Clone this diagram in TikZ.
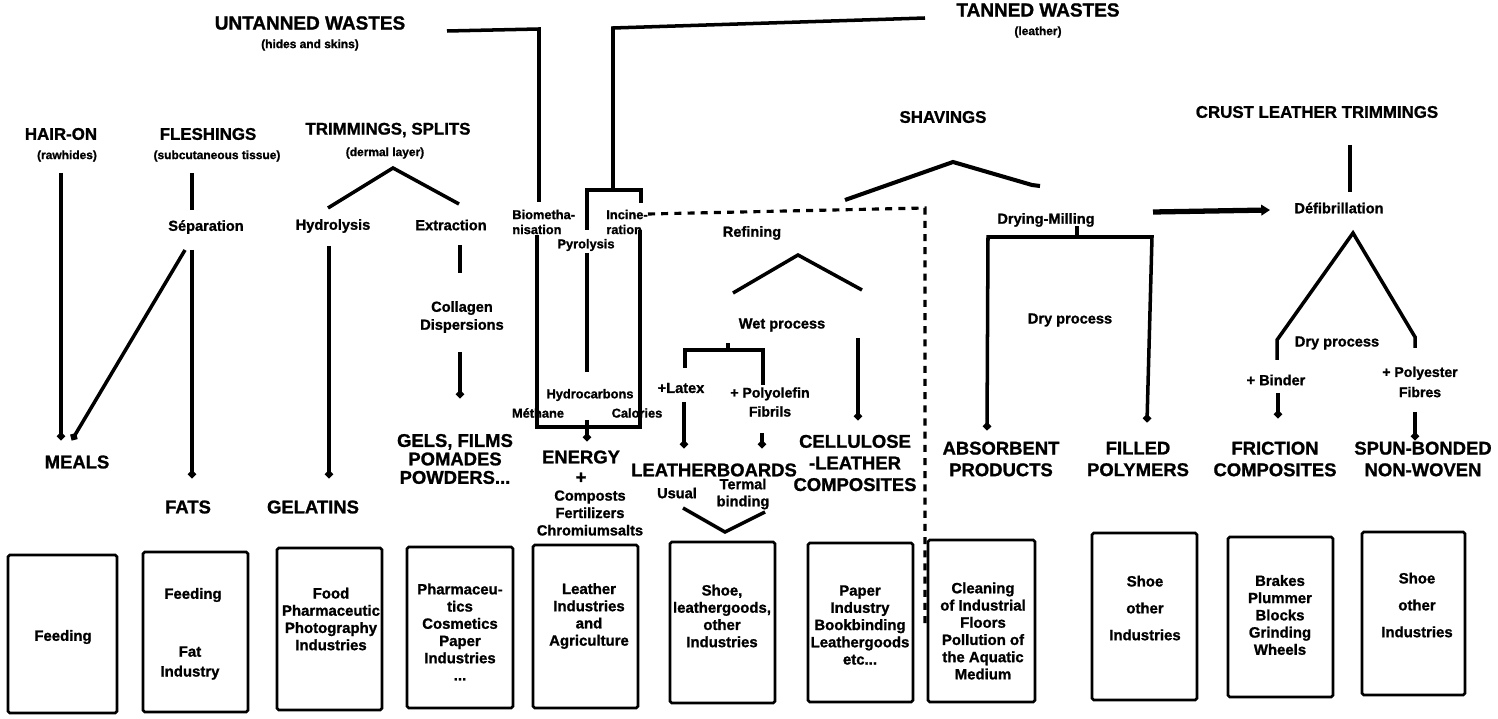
\documentclass[tikz,border=0pt]{standalone}
\usepackage{fontspec}
\setmainfont{Liberation Sans}[BoldFeatures={FakeBold=1.2}]
\usetikzlibrary{arrows.meta,fit}
\tikzset{
  every node/.style={inner sep=0pt},
  ttl/.style={font=\fontsize{10.8}{12}\selectfont\bfseries},
  cat/.style={font=\fontsize{9.6}{11}\selectfont\bfseries},
  sub/.style={font=\fontsize{6.8}{8}\selectfont\bfseries},
  prod/.style={font=\fontsize{10.5}{12.3}\selectfont\bfseries, align=center},
  proc/.style={font=\fontsize{8.3}{10}\selectfont\bfseries, align=center},
  sm/.style={font=\fontsize{7.3}{8.5}\selectfont\bfseries, align=center},
  bt/.style={font=\fontsize{8.5}{9.8}\selectfont\bfseries, align=center},
  ln/.style={line width=2pt},
  arr/.style={line width=2pt, -{Circle[length=4.2pt]}},
  dsh/.style={line width=1.8pt, dash pattern=on 4pt off 3.5pt},
  box/.style={draw, line width=1.5pt, rounded corners=1pt, inner sep=0pt},
}
\begin{document}
\begin{tikzpicture}[x=0.02cm,y=-0.02cm]
\useasboundingbox (0,0) rectangle (1498,719);

% ---------- titles ----------
\node[ttl] (untanned) at (310,23) {UNTANNED WASTES};
\node[sub] (untsub) at (310,45) {(hides and skins)};
\node[ttl] (tanned) at (1038,10) {TANNED WASTES};
\node[sub] (tansub) at (1038,32) {(leather)};
\node[cat] (hair) at (61,134) {HAIR-ON};
\node[sub] (hairsub) at (67,156) {(rawhides)};
\node[cat] (flesh) at (208,134) {FLESHINGS};
\node[sub] (fleshsub) at (217,156) {(subcutaneous tissue)};
\node[cat] (trim) at (388,130) {TRIMMINGS, SPLITS};
\node[sub] (trimsub) at (385,153) {(dermal layer)};
\node[cat] (shav) at (943,117) {SHAVINGS};
\node[cat] (crust) at (1317,112) {CRUST LEATHER TRIMMINGS};

% ---------- process labels ----------
\node[proc] (sep) at (206,227) {Séparation};
\node[proc] (hydro) at (333,226) {Hydrolysis};
\node[proc] (extr) at (451,225) {Extraction};
\node[proc, font=\fontsize{8.3}{10.2}\selectfont\bfseries] (coll) at (462,317) {Collagen\\Dispersions};
\node[sm, align=left, anchor=west] (biom) at (512,222) {Biometha-\\nisation};
\node[sm, align=left, anchor=west] (incin) at (606,222) {Incine-\\ration};
\node[sm] (pyro) at (586,245) {Pyrolysis};
\node[sm] (hydc) at (590,395) {Hydrocarbons};
\node[sm] (meth) at (538,413) {Méthane};
\node[sm] (calo) at (637,413) {Calories};
\node[proc] (refin) at (752,233) {Refining};
\node[proc] (wet) at (782,325) {Wet process};
\node[proc] (latex) at (681,388) {+Latex};
\node[proc, font=\fontsize{8}{10.8}\selectfont\bfseries] (poly) at (770,402) {+ Polyolefin\\Fibrils};
\node[proc] (usual) at (677,493) {Usual};
\node[proc, font=\fontsize{8.3}{9.7}\selectfont\bfseries] (termal) at (743,494) {Termal\\binding};
\node[proc] (drying) at (1046,220) {Drying-Milling};
\node[proc] (dry1) at (1070,320) {Dry process};
\node[proc] (defib) at (1339,208) {Défibrillation};
\node[proc] (dry2) at (1337,343) {Dry process};
\node[proc] (binder) at (1276,380) {+ Binder};
\node[proc, font=\fontsize{8}{11.5}\selectfont\bfseries] (polyes) at (1420,382) {+ Polyester\\Fibres};

% ---------- products ----------
\node[prod] (meals) at (77,462) {MEALS};
\node[prod] (fats) at (188,507) {FATS};
\node[prod] (gelat) at (313,507) {GELATINS};
\node[prod, font=\fontsize{10.5}{10.5}\selectfont\bfseries] (gels) at (455,459) {GELS, FILMS\\POMADES\\POWDERS...};
\node[prod] (energy) at (581,457) {ENERGY};
\node[prod] (plus) at (581,478) {+};
\node[proc, font=\fontsize{8.3}{9.9}\selectfont\bfseries] (comp) at (590,513) {Composts\\Fertilizers\\Chromiumsalts};
\node[prod] (lboards) at (714,470) {LEATHERBOARDS};
\node[prod] (cellu) at (855,463) {CELLULOSE\\-LEATHER\\COMPOSITES};
\node[prod] (absorb) at (1001,459) {ABSORBENT\\PRODUCTS};
\node[prod] (filled) at (1138,459) {FILLED\\POLYMERS};
\node[prod] (fric) at (1275,459) {FRICTION\\COMPOSITES};
\node[prod] (spun) at (1423,459) {SPUN-BONDED\\NON-WOVEN};

% ---------- application boxes ----------
\node[box, fit={(8,555)(117,713)}] (b1) {};
\node[box, fit={(143,552)(248,712)}] (b2) {};
\node[box, fit={(277,548)(382,710)}] (b3) {};
\node[box, fit={(407,547)(513,708)}] (b4) {};
\node[box, fit={(533,545)(638,708)}] (b5) {};
\node[box, fit={(670,542)(775,703)}] (b6) {};
\node[box, fit={(808,543)(913,702)}] (b7) {};
\node[box, fit={(928,540)(1035,702)}] (b8) {};
\node[box, fit={(1092,533)(1197,700)}] (b9) {};
\node[box, fit={(1228,537)(1333,697)}] (b10) {};
\node[box, fit={(1362,532)(1465,695)}] (b11) {};

\node[bt] (t1) at (63,637) {Feeding};
\node[bt] (t2a) at (193,595) {Feeding};
\node[bt, font=\fontsize{8.5}{11.3}\selectfont\bfseries] (t2b) at (190,663) {Fat\\Industry};
\node[bt] (t3) at (331,619) {Food\\Pharmaceutic\\Photography\\Industries};
\node[bt] (t4) at (460,632) {Pharmaceu-\\tics\\Cosmetics\\Paper\\Industries\\...};
\node[bt] (t5) at (589,616) {Leather\\Industries\\and\\Agriculture};
\node[bt] (t6) at (722,616) {Shoe,\\leathergoods,\\other\\Industries};
\node[bt] (t7) at (860,625) {Paper\\Industry\\Bookbinding\\Leathergoods\\etc...};
\node[bt] (t8) at (983,631) {Cleaning\\of Industrial\\Floors\\Pollution of\\the Aquatic\\Medium};
\node[bt, font=\fontsize{8.5}{15.3}\selectfont\bfseries] (t9) at (1145,608) {Shoe\\other\\Industries};
\node[bt] (t10) at (1280,615) {Brakes\\Plummer\\Blocks\\Grinding\\Wheels};
\node[bt, font=\fontsize{8.5}{15.3}\selectfont\bfseries] (t11) at (1417,605) {Shoe\\other\\Industries};

% ---------- junction coordinates ----------
\coordinate (u1) at (447,31);  \coordinate (u2) at (539,29);  \coordinate (u3) at (539,202);
\coordinate (w1) at (925,18);  \coordinate (w2) at (613,28);  \coordinate (w3) at (613,190);
\coordinate (br1) at (587,230); \coordinate (br2) at (587,190); \coordinate (br3) at (641,190); \coordinate (br4) at (641,203);
\coordinate (h1) at (61,173);  \coordinate (h2) at (61,440);
\coordinate (f1) at (192,173); \coordinate (f2) at (192,210);
\coordinate (s1) at (192,250); \coordinate (s2) at (192,478);
\coordinate (s3) at (185,250); \coordinate (s4) at (72,440);
\coordinate (tv1) at (328,208); \coordinate (tv2) at (393,168); \coordinate (tv3) at (459,204);
\coordinate (hy1) at (329,246); \coordinate (hy2) at (329,478);
\coordinate (e1) at (460,245); \coordinate (e2) at (460,273);
\coordinate (e3) at (460,352); \coordinate (e4) at (460,398);
\coordinate (en1) at (537,235); \coordinate (en2) at (537,427);
\coordinate (en3) at (640,427); \coordinate (en4) at (640,230);
\coordinate (en5) at (587,420); \coordinate (en6) at (587,427); \coordinate (en7) at (587,441);
\coordinate (p1) at (587,253); \coordinate (p2) at (587,372);
\coordinate (d1) at (648,214); \coordinate (d2) at (925,208); \coordinate (d3) at (925,628);
\coordinate (rv1) at (733,293); \coordinate (rv2) at (798,255); \coordinate (rv3) at (862,290);
\coordinate (wb1) at (685,368); \coordinate (wb2) at (685,350); \coordinate (wb3) at (763,350); \coordinate (wb4) at (763,385);
\coordinate (wb5) at (728,343); \coordinate (wb6) at (728,350);
\coordinate (la1) at (684,402); \coordinate (la2) at (684,448);
\coordinate (po1) at (762,433); \coordinate (po2) at (762,448);
\coordinate (ce1) at (858,338); \coordinate (ce2) at (858,420);
\coordinate (lv1) at (683,508); \coordinate (lv2) at (725,532); \coordinate (lv3) at (765,512);
\coordinate (sv1) at (845,200); \coordinate (sv2) at (953,162); \coordinate (sv3) at (1032,185); \coordinate (sv4) at (1040,186);
\coordinate (db0) at (1077,226); \coordinate (db1) at (1077,237);
\coordinate (db2) at (988,237); \coordinate (db3) at (987,430);
\coordinate (db4) at (1152,237); \coordinate (db5) at (1147,422);
\coordinate (da1) at (1153,212); \coordinate (da2) at (1270,210);
\coordinate (c1) at (1350,145); \coordinate (c2) at (1350,192);
\coordinate (dv1) at (1277,360); \coordinate (dv2) at (1277,340); \coordinate (dv3) at (1353,233);
\coordinate (dv4) at (1415,337); \coordinate (dv5) at (1415,348);
\coordinate (bi1) at (1278,393); \coordinate (bi2) at (1278,418);
\coordinate (pe1) at (1415,412); \coordinate (pe2) at (1415,440);

% ---------- connectors ----------
\draw[ln] (u1) -- (u2) -- (u3);
\draw[ln] (w1) -- (w2) -- (w3);
\draw[ln] (br1) -- (br2) -- (br3) -- (br4);
\draw[arr] (h1) -- (h2);
\draw[ln] (f1) -- (f2);
\draw[arr] (s1) -- (s2);
\draw[arr] (s3) -- (s4);
\draw[ln] (tv1) -- (tv2) -- (tv3);
\draw[arr] (hy1) -- (hy2);
\draw[ln] (e1) -- (e2);
\draw[arr] (e3) -- (e4);
\draw[ln] (en1) -- (en2) -- (en3) -- (en4);
\draw[ln] (en5) -- (en6);
\draw[arr] (en6) -- (en7);
\draw[ln] (p1) -- (p2);
\draw[dsh] (d1) -- (d2) -- (d3);
\draw[ln] (rv1) -- (rv2) -- (rv3);
\draw[ln] (wb1) -- (wb2) -- (wb3) -- (wb4);
\draw[ln] (wb5) -- (wb6);
\draw[arr] (la1) -- (la2);
\draw[arr] (po1) -- (po2);
\draw[arr] (ce1) -- (ce2);
\draw[ln] (lv1) -- (lv2) -- (lv3);
\draw[ln, line width=2.3pt] (sv1) -- (sv2) -- (sv3) -- (sv4);
\draw[ln] (db0) -- (db1);
\draw[arr] (db1) -- (db2) -- (db3);
\draw[arr] (db1) -- (db4) -- (db5);
\draw[line width=3pt, -{Triangle[length=5pt,width=6pt]}] (da1) -- (da2);
\draw[ln] (c1) -- (c2);
\draw[ln] (dv1) -- (dv2) -- (dv3) -- (dv4) -- (dv5);
\draw[arr] (bi1) -- (bi2);
\draw[arr] (pe1) -- (pe2);
\end{tikzpicture}
\end{document}
